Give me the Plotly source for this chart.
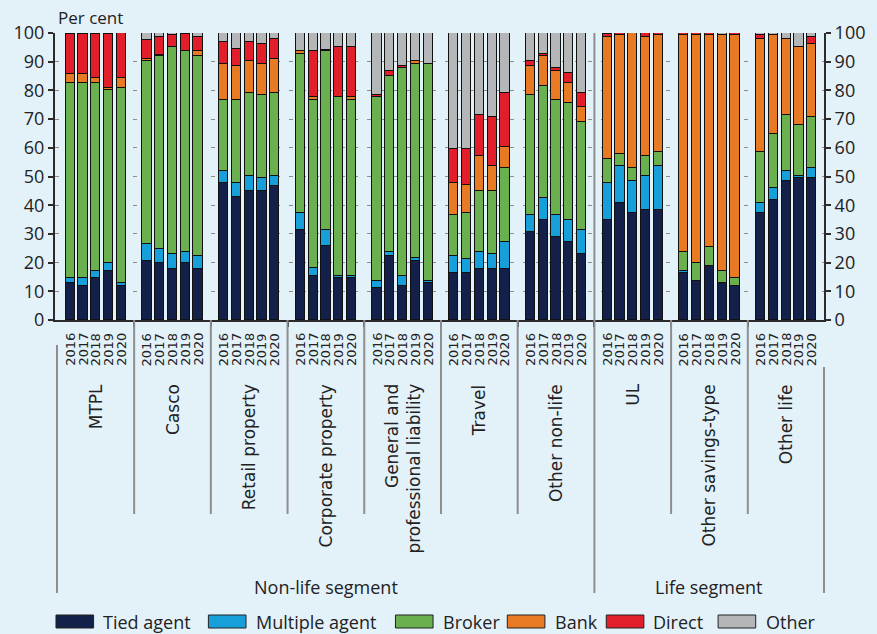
import plotly.graph_objects as go

# Insurance product lines and reporting years
categories = ["MTPL", "Casco", "Retail property", "Corporate property",
              "General and<br>professional liability", "Travel", "Other non-life",
              "UL", "Other savings-type", "Other life"]
years = ["2016", "2017", "2018", "2019", "2020"]
segments = ["Non-life segment", "Life segment"]
y_ticks = [0, 10, 20, 30, 40, 50, 60, 70, 80, 90, 100]

# Share of premiums by distribution channel (per cent), 5 years per product line
tied_agent = [12.8, 11.9, 14.5, 17.1, 11.9,
              20.6, 19.7, 17.9, 19.7, 17.9,
              47.7, 42.7, 45.1, 45.1, 46.7,
              31.5, 15.5, 25.7, 14.5, 14.5,
              11.0, 22.3, 11.9, 20.6, 12.8,
              16.3, 16.3, 17.9, 17.9, 17.9,
              30.7, 35.0, 29.0, 27.3, 23.0,
              35.0, 40.8, 37.4, 38.4, 38.4,
              16.3, 13.6, 18.8, 12.8, 11.9,
              37.4, 41.7, 48.6, 49.4, 49.4]
multiple_agent = [1.7, 2.6, 2.5, 2.6, 0.9,
                  5.8, 5.1, 5.1, 4.1, 4.3,
                  4.3, 5.0, 5.1, 4.3, 3.5,
                  5.9, 2.5, 5.8, 1.0, 1.0,
                  2.6, 1.5, 3.6, 0.9, 0.8,
                  6.0, 5.0, 5.9, 5.1, 9.4,
                  5.8, 7.6, 7.5, 7.6, 8.4,
                  12.7, 12.8, 11.2, 11.8, 15.2,
                  0.8, 0.0, 0.0, 0.0, 0.0,
                  3.4, 4.3, 3.4, 0.8, 3.4]
broker = [68.1, 68.1, 65.6, 60.3, 68.0,
          63.9, 67.1, 72.1, 69.8, 69.7,
          24.5, 28.8, 28.9, 28.9, 28.9,
          55.3, 58.5, 62.1, 62.1, 61.0,
          64.0, 61.3, 72.2, 67.8, 75.7,
          14.3, 16.1, 21.3, 22.1, 25.5,
          41.8, 39.0, 40.0, 40.8, 37.6,
          8.5, 4.3, 4.2, 6.8, 5.1,
          6.7, 6.1, 6.8, 4.3, 2.6,
          17.9, 18.8, 19.5, 17.9, 17.8]
bank = [3.2, 3.2, 1.7, 0.8, 3.5,
        0.6, 0.5, 0.0, 0.0, 1.7,
        12.8, 12.0, 11.0, 11.0, 11.9,
        0.9, 1.1, 0.0, 0.0, 1.1,
        0.0, 0.0, 0.0, 0.8, 0.0,
        11.1, 9.5, 11.9, 8.5, 7.5,
        10.2, 10.3, 10.2, 6.9, 5.1,
        42.4, 41.5, 47.2, 41.6, 40.7,
        75.6, 79.7, 73.8, 82.3, 84.9,
        39.1, 34.6, 26.3, 27.1, 25.6]
direct = [13.9, 13.9, 15.4, 18.9, 15.7,
          6.8, 6.2, 4.3, 6.1, 5.0,
          7.6, 5.9, 6.8, 6.9, 6.8,
          0.0, 16.0, 0.6, 17.6, 17.6,
          0.9, 1.8, 0.8, 0.0, 0.0,
          11.8, 12.6, 14.5, 17.1, 18.8,
          1.6, 0.8, 1.0, 3.3, 5.0,
          1.1, 0.6, 0.0, 1.4, 0.6,
          0.6, 0.6, 0.6, 0.0, 0.6,
          1.6, 0.0, 0.0, 0.0, 2.4]
other = [0.3, 0.3, 0.3, 0.3, 0.0,
         2.3, 1.4, 0.6, 0.3, 1.4,
         3.1, 5.6, 3.1, 3.8, 2.2,
         6.4, 6.4, 5.8, 4.8, 4.8,
         21.5, 13.1, 11.5, 9.9, 10.7,
         40.5, 40.5, 28.5, 29.3, 20.9,
         9.9, 7.3, 12.3, 14.1, 20.9,
         0.3, 0.0, 0.0, 0.0, 0.0,
         0.0, 0.0, 0.0, 0.6, 0.0,
         0.6, 0.6, 2.2, 4.8, 1.4]

channels = [
    ("Tied agent", tied_agent, "#13214A"),
    ("Multiple agent", multiple_agent, "#179FDA"),
    ("Broker", broker, "#6AB04F"),
    ("Bank", bank, "#E97A24"),
    ("Direct", direct, "#E31E2B"),
    ("Other", other, "#B4B6B8"),
]

BG = "#E3F1F9"
TEXT = "#222222"
DIVIDER = "#8E8E8E"
AXIS = "#2B2B2B"

# Each product line takes 6 slots: 5 bars and a gap
SLOT = 6
n_years = len(years)
x_pos = [g * SLOT + i for g in range(len(categories)) for i in range(n_years)]
year_labels = [years[i] for g in range(len(categories)) for i in range(n_years)]
boundaries = [g * SLOT + n_years for g in range(len(categories) - 1)]
life_start = boundaries[6]

# Pixel geometry of the plotting area (figure is 877 x 634)
W, H = 877, 634
L, R, T, B = 55, 45, 33, 314
plot_w, plot_h = W - L - R, H - T - B


def px_x(px):
    return (px - L) / plot_w


def px_y(py):
    return (H - B - py) / plot_h


fig = go.Figure()
for name, vals, col in channels:
    fig.add_trace(go.Bar(
        x=x_pos, y=vals, name=name, width=0.72,
        marker=dict(color=col, line=dict(color="#111111", width=1)),
        showlegend=False,
    ))

# invisible trace to carry the right-hand axis
fig.add_trace(go.Scatter(x=[x_pos[0]], y=[0], yaxis="y2", mode="markers",
                         marker=dict(opacity=0), showlegend=False, hoverinfo="skip"))

annotations = []
# year labels under every bar
for xp, yl in zip(x_pos, year_labels):
    annotations.append(dict(
        x=xp, xref="x", y=px_y(331), yref="paper", text=yl, showarrow=False,
        textangle=-90, xanchor="center", yanchor="top",
        font=dict(family="DejaVu Sans", size=13, color=TEXT)))
# product-line labels
for g, cat in enumerate(categories):
    annotations.append(dict(
        x=g * SLOT + 2, xref="x", y=px_y(382), yref="paper", text=cat,
        showarrow=False, textangle=-90, xanchor="center", yanchor="top",
        align="right", font=dict(family="DejaVu Sans", size=17, color=TEXT)))
# segment labels
annotations.append(dict(x=(-1.05 + life_start) / 2, xref="x", y=px_y(587), yref="paper",
                        text=segments[0], showarrow=False, yanchor="middle",
                        font=dict(family="Open Sans", size=18, color=TEXT)))
annotations.append(dict(x=(life_start + 58.9) / 2, xref="x", y=px_y(587), yref="paper",
                        text=segments[1], showarrow=False, yanchor="middle",
                        font=dict(family="Open Sans", size=18, color=TEXT)))
# unit label
annotations.append(dict(x=px_x(56), xref="paper", y=px_y(17), yref="paper",
                        text="Per cent", showarrow=False, xanchor="left", yanchor="middle",
                        font=dict(family="Open Sans", size=17, color=TEXT)))

shapes = []
# dividers between product lines below the axis
for b in boundaries:
    bottom = px_y(593) if b == life_start else px_y(514)
    shapes.append(dict(type="line", xref="x", yref="paper", x0=b, x1=b,
                       y0=0, y1=bottom, line=dict(color=DIVIDER, width=2)))
# non-life / life split also runs through the plot
shapes.append(dict(type="line", xref="x", yref="paper", x0=life_start, x1=life_start,
                   y0=0, y1=1, line=dict(color=DIVIDER, width=2), layer="below"))
# outer brackets of the segment labels
shapes.append(dict(type="line", xref="paper", yref="paper", x0=px_x(57), x1=px_x(57),
                   y0=px_y(345), y1=px_y(593), line=dict(color=DIVIDER, width=2)))
shapes.append(dict(type="line", xref="paper", yref="paper", x0=px_x(832), x1=px_x(832),
                   y0=px_y(367), y1=px_y(593), line=dict(color=DIVIDER, width=2)))

# custom legend row
legend_items = [(56, 101), (210, 256), (399, 445), (512, 558), (612, 657), (725, 771)]
for (sx, tx), (name, _, col) in zip(legend_items, channels):
    shapes.append(dict(type="rect", xref="paper", yref="paper",
                       x0=px_x(sx), x1=px_x(sx + 38), y0=px_y(615), y1=px_y(628),
                       fillcolor=col, line=dict(color="#222222", width=1)))
    annotations.append(dict(x=px_x(tx), xref="paper", y=px_y(621.5), yref="paper",
                            text=name, showarrow=False, xanchor="left", yanchor="middle",
                            font=dict(family="Open Sans", size=18, color=TEXT)))

yaxis_common = dict(
    range=[0, 100], tickvals=y_ticks, ticks="outside", ticklen=5, tickwidth=2,
    tickcolor=AXIS, showline=True, linecolor=AXIS, linewidth=2, zeroline=False,
    tickfont=dict(family="Open Sans", size=18, color=TEXT),
)

fig.update_layout(
    width=W, height=H,
    margin=dict(l=L, r=R, t=T, b=B, pad=0),
    paper_bgcolor=BG, plot_bgcolor=BG,
    barmode="stack", bargap=0,
    xaxis=dict(range=[-1.19, 58.96], tickvals=boundaries, ticks="outside", ticklen=5,
               tickwidth=2, tickcolor=AXIS, showticklabels=False, showgrid=False,
               showline=True, linecolor=AXIS, linewidth=2, zeroline=False),
    yaxis=dict(**yaxis_common, showgrid=True, gridcolor="#8C8C8C", gridwidth=1,
               griddash="4px,9px"),
    yaxis2=dict(**yaxis_common, overlaying="y", side="right", showgrid=False),
    annotations=annotations,
    shapes=shapes,
    showlegend=False,
)

fig.write_html("out.html")
